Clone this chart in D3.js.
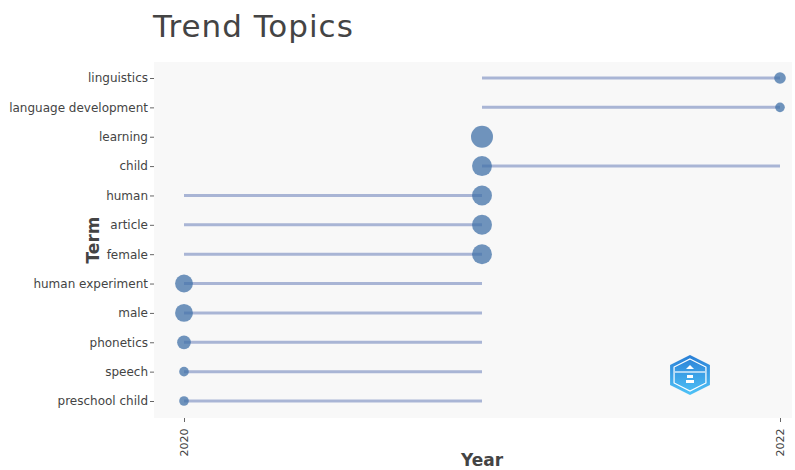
<!DOCTYPE html>
<html>
<head>
<meta charset="utf-8">
<script src="https://cdn.jsdelivr.net/npm/d3@7"></script>
<style>
  body { margin: 0; background: #fff; }
  svg { display: block; font-family: "DejaVu Sans", Verdana, sans-serif; }
</style>
</head>
<body>
<div class="chart"></div>
<script>
const terms = ["linguistics", "language development", "learning", "child", "human", "article",
    "female", "human experiment", "male", "phonetics", "speech", "preschool child"];
const yearQ1 = [2021, 2021, 2021, 2021, 2020, 2020, 2020, 2020, 2020, 2020, 2020, 2020];
const yearMedian = [2022, 2022, 2021, 2021, 2021, 2021, 2021, 2020, 2020, 2020, 2020, 2020];
const yearQ3 = [2022, 2022, 2021, 2022, 2021, 2021, 2021, 2021, 2021, 2021, 2021, 2021];
const freq = [4, 3, 9, 8, 8, 8, 8, 7, 7, 5, 3, 3];
const xTicks = [2020, 2022];

const data = terms.map((t, i) => ({
    term: t, q1: yearQ1[i], med: yearMedian[i], q3: yearQ3[i], freq: freq[i]
}));

const width = 795;
const height = 470;
const plot = { left: 154, right: 792, top: 62, bottom: 418 };

const x = d3.scaleLinear()
    .domain([2020, 2022])
    .range([184, 780]);

const y = d3.scalePoint()
    .domain(terms)
    .range([78, 401]);

const r = d3.scaleLinear()
    .domain(d3.extent(freq))
    .range([4.8, 11]);

const svg = d3.select(".chart")
    .append("svg")
    .attr("width", width)
    .attr("height", height);

// plot background
svg.append("rect")
    .attr("x", plot.left)
    .attr("y", plot.top)
    .attr("width", plot.right - plot.left)
    .attr("height", plot.bottom - plot.top)
    .attr("fill", "#f8f8f8");

// title
svg.append("text")
    .attr("x", 153)
    .attr("y", 37)
    .attr("font-size", 31)
    .attr("letter-spacing", 1)
    .attr("fill", "#444")
    .text("Trend Topics");

// segments q1 -> q3
svg.append("g")
    .selectAll("line")
    .data(data)
    .enter()
    .append("line")
    .attr("x1", d => x(d.q1))
    .attr("x2", d => x(d.q3))
    .attr("y1", d => y(d.term))
    .attr("y2", d => y(d.term))
    .attr("stroke", "#a9b5d5")
    .attr("stroke-width", 3);

// median points
svg.append("g")
    .selectAll("circle")
    .data(data)
    .enter()
    .append("circle")
    .attr("cx", d => x(d.med))
    .attr("cy", d => y(d.term))
    .attr("r", d => r(d.freq))
    .attr("fill", "#4271a8")
    .attr("fill-opacity", 0.75);

// y axis
const yAxis = svg.append("g")
    .attr("transform", `translate(${plot.left},0)`)
    .call(d3.axisLeft(y).tickSize(4).tickPadding(2));
yAxis.select(".domain").remove();
yAxis.selectAll("line").attr("stroke", "#666");
yAxis.selectAll("text")
    .attr("font-size", 12)
    .attr("fill", "#444")
    .attr("font-family", "DejaVu Sans, Verdana, sans-serif");

// x axis
const xAxis = svg.append("g")
    .attr("transform", `translate(0,${plot.bottom})`)
    .call(d3.axisBottom(x).tickValues(xTicks).tickFormat(d3.format("d")).tickSize(4).tickPadding(3));
xAxis.select(".domain").remove();
xAxis.selectAll("line").attr("stroke", "#666");
xAxis.selectAll("text")
    .attr("font-size", 11)
    .attr("fill", "#444")
    .attr("font-family", "DejaVu Sans, Verdana, sans-serif")
    .attr("transform", "rotate(-90)")
    .attr("text-anchor", "end")
    .attr("dx", "-0.6em")
    .attr("dy", "0.35em")
    .attr("y", 0)
    .attr("x", -4);

// axis titles
svg.append("text")
    .attr("x", 482)
    .attr("y", 466)
    .attr("text-anchor", "middle")
    .attr("font-size", 17)
    .attr("font-weight", "bold")
    .attr("fill", "#444")
    .text("Year");

svg.append("text")
    .attr("transform", "translate(99,240) rotate(-90)")
    .attr("text-anchor", "middle")
    .attr("font-size", 17)
    .attr("font-weight", "bold")
    .attr("fill", "#444")
    .text("Term");

// logo
const defs = svg.append("defs");
const grad = defs.append("linearGradient")
    .attr("id", "logoGrad")
    .attr("x1", 0).attr("y1", 0).attr("x2", 0).attr("y2", 1);
grad.append("stop").attr("offset", "0%").attr("stop-color", "#2a7fd6");
grad.append("stop").attr("offset", "100%").attr("stop-color", "#4fc3f7");

const logo = svg.append("g").attr("transform", "translate(690,375)");
const hex = d3.range(6).map(i => {
    const a = Math.PI / 3 * i - Math.PI / 2;
    return [23 * Math.cos(a), 20 * Math.sin(a)];
});
logo.append("polygon")
    .attr("points", hex.map(p => p.join(",")).join(" "))
    .attr("fill", "url(#logoGrad)");
logo.append("polygon")
    .attr("points", hex.map(p => [p[0] * 0.8, p[1] * 0.8].join(",")).join(" "))
    .attr("fill", "none")
    .attr("stroke", "#fff")
    .attr("stroke-width", 1.2);
logo.append("line")
    .attr("x1", -15).attr("x2", 15).attr("y1", -3).attr("y2", -3)
    .attr("stroke", "#fff").attr("stroke-width", 1.2);
logo.append("path")
    .attr("d", "M-4,-6 L0,-10 L4,-6 Z M-3,0 h6 v3 h-6 Z M-4,5 h8 v3 h-8 Z")
    .attr("fill", "#fff");
</script>
</body>
</html>
